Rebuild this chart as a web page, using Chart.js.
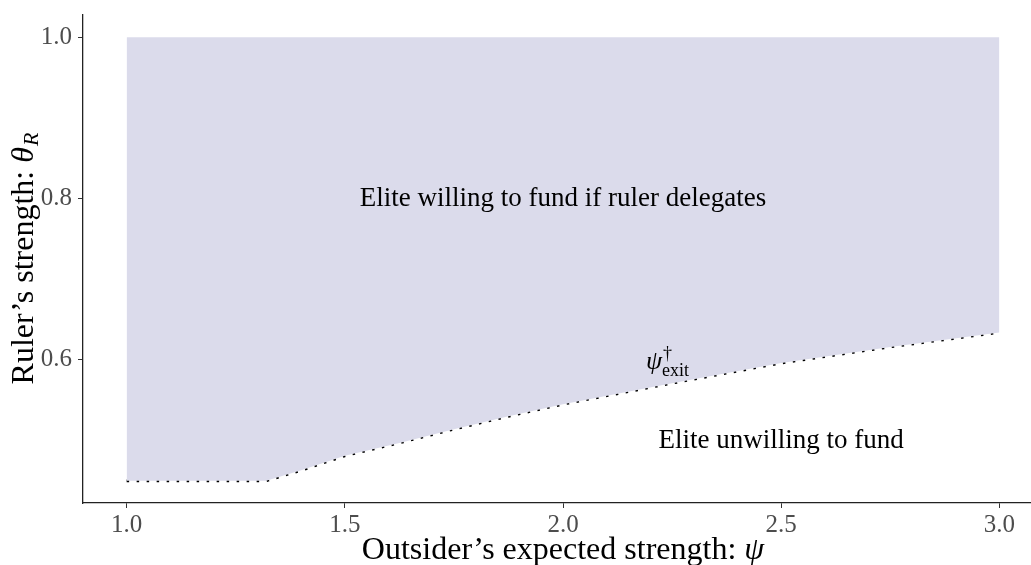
<!DOCTYPE html>
<html>
<head>
<meta charset="utf-8">
<script src="https://cdn.jsdelivr.net/npm/chart.js@4"></script>
<style>
  html, body { margin: 0; padding: 0; background: #fff; overflow: hidden; }
  canvas { display: block; }
</style>
</head>
<body>
<canvas id="myChart" width="1060" height="565"></canvas>
<script>
// outsider's expected strength and the exit threshold for the ruler
const psi = [1.0, 1.32, 1.4, 1.5, 1.625, 1.75, 1.875, 2.0, 2.25, 2.5, 2.75, 3.0];
const thetaExit = [0.45, 0.45, 0.463, 0.481, 0.497, 0.514, 0.530, 0.545, 0.571, 0.596, 0.616, 0.634];
const thetaTop = [1.0, 1.0, 1.0, 1.0, 1.0, 1.0, 1.0, 1.0, 1.0, 1.0, 1.0, 1.0];

const xTicks = [1.0, 1.5, 2.0, 2.5, 3.0];
const yTicks = [0.6, 0.8, 1.0];

// region labels: [psi, theta, text]
const regionLabels = [
    [2.0, 0.8, 'Elite willing to fund if ruler delegates'],
    [2.5, 0.5, 'Elite unwilling to fund']
];
const exitLabel = [2.19, 0.589];

const serif = '"Liberation Serif", "DejaVu Serif", serif';

var labelsPlugin = {
    id: 'labels',
    afterDraw(chart) {
        const ctx = chart.ctx;
        const xs = chart.scales.x, ys = chart.scales.y;
        const area = chart.chartArea;
        ctx.save();
        ctx.fillStyle = '#000';

        // region text
        ctx.font = '27px ' + serif;
        ctx.textAlign = 'center';
        ctx.textBaseline = 'middle';
        regionLabels.forEach(function (l) {
            ctx.fillText(l[2], xs.getPixelForValue(l[0]), ys.getPixelForValue(l[1]));
        });

        // psi dagger exit
        ctx.textAlign = 'left';
        ctx.textBaseline = 'alphabetic';
        let px = xs.getPixelForValue(exitLabel[0]);
        let py = ys.getPixelForValue(exitLabel[1]);
        ctx.font = 'italic 26px ' + serif;
        ctx.fillText('ψ', px, py);
        let w = ctx.measureText('ψ').width;
        ctx.font = '18px ' + serif;
        ctx.fillText('†', px + w + 1, py - 10);
        ctx.fillText('exit', px + w, py + 7);

        // x axis title
        let segs = [['Outsider\u2019s expected strength: ', '32px ' + serif], ['ψ', 'italic 32px ' + serif]];
        let total = 0;
        segs.forEach(function (s) { ctx.font = s[1]; total += ctx.measureText(s[0]).width; });
        let cx = (area.left + area.right) / 2 - total / 2;
        segs.forEach(function (s) {
            ctx.font = s[1];
            ctx.fillText(s[0], cx, 559);
            cx += ctx.measureText(s[0]).width;
        });

        // y axis title, rotated
        ctx.translate(33, (area.top + area.bottom) / 2);
        ctx.rotate(-Math.PI / 2);
        segs = [['Ruler\u2019s strength: ', '32px ' + serif], ['θ', 'italic 32px ' + serif]];
        total = 0;
        segs.forEach(function (s) { ctx.font = s[1]; total += ctx.measureText(s[0]).width; });
        ctx.font = 'italic 22px ' + serif;
        total += ctx.measureText('R').width;
        cx = -total / 2;
        segs.forEach(function (s) {
            ctx.font = s[1];
            ctx.fillText(s[0], cx, 0);
            cx += ctx.measureText(s[0]).width;
        });
        ctx.font = 'italic 22px ' + serif;
        ctx.fillText('R', cx + 1, 5);
        ctx.restore();
    }
};

var ctx = document.getElementById('myChart').getContext('2d');
var chart = new Chart(ctx, {
    type: 'line',
    data: {
        labels: psi,
        datasets: [{
            // upper edge of the shaded region
            data: psi.map((x, i) => ({ x: x, y: thetaTop[i] })),
            borderWidth: 0,
            pointRadius: 0,
            fill: '+1',
            backgroundColor: 'rgb(219,219,235)'
        }, {
            // exit threshold, dotted
            data: psi.map((x, i) => ({ x: x, y: thetaExit[i] })),
            borderColor: '#000',
            borderWidth: 2.8,
            borderDash: [2.5, 7.5],
            borderCapStyle: 'butt',
            pointRadius: 0,
            fill: false
        }]
    },
    options: {
        responsive: false,
        animation: false,
        layout: { padding: { left: 0, top: 15, right: 17, bottom: 0 } },
        plugins: { legend: { display: false }, tooltip: { enabled: false } },
        scales: {
            x: {
                type: 'linear',
                min: 0.9,
                max: 3.1,
                afterBuildTicks: (s) => { s.ticks = xTicks.map(v => ({ value: v })); },
                afterFit: (s) => { s.height = 62; s.paddingLeft = 0; s.paddingRight = 0; },
                ticks: {
                    color: '#4d4d4d',
                    font: { family: serif, size: 25 },
                    padding: 2,
                    maxRotation: 0,
                    callback: (v) => v.toFixed(1)
                },
                grid: { drawOnChartArea: false, drawTicks: true, tickLength: 5, tickColor: '#333', tickWidth: 1 },
                border: { display: true, color: '#222', width: 1.3 }
            },
            y: {
                type: 'linear',
                min: 0.4225,
                max: 1.0275,
                afterBuildTicks: (s) => { s.ticks = yTicks.map(v => ({ value: v })); },
                afterFit: (s) => { s.width = 83; s.paddingTop = 0; s.paddingBottom = 0; },
                ticks: {
                    color: '#4d4d4d',
                    font: { family: serif, size: 25 },
                    padding: 6,
                    callback: (v) => v.toFixed(1)
                },
                grid: { drawOnChartArea: false, drawTicks: true, tickLength: 5, tickColor: '#333', tickWidth: 1 },
                border: { display: true, color: '#222', width: 1.3 }
            }
        }
    },
    plugins: [labelsPlugin]
});
</script>
</body>
</html>
